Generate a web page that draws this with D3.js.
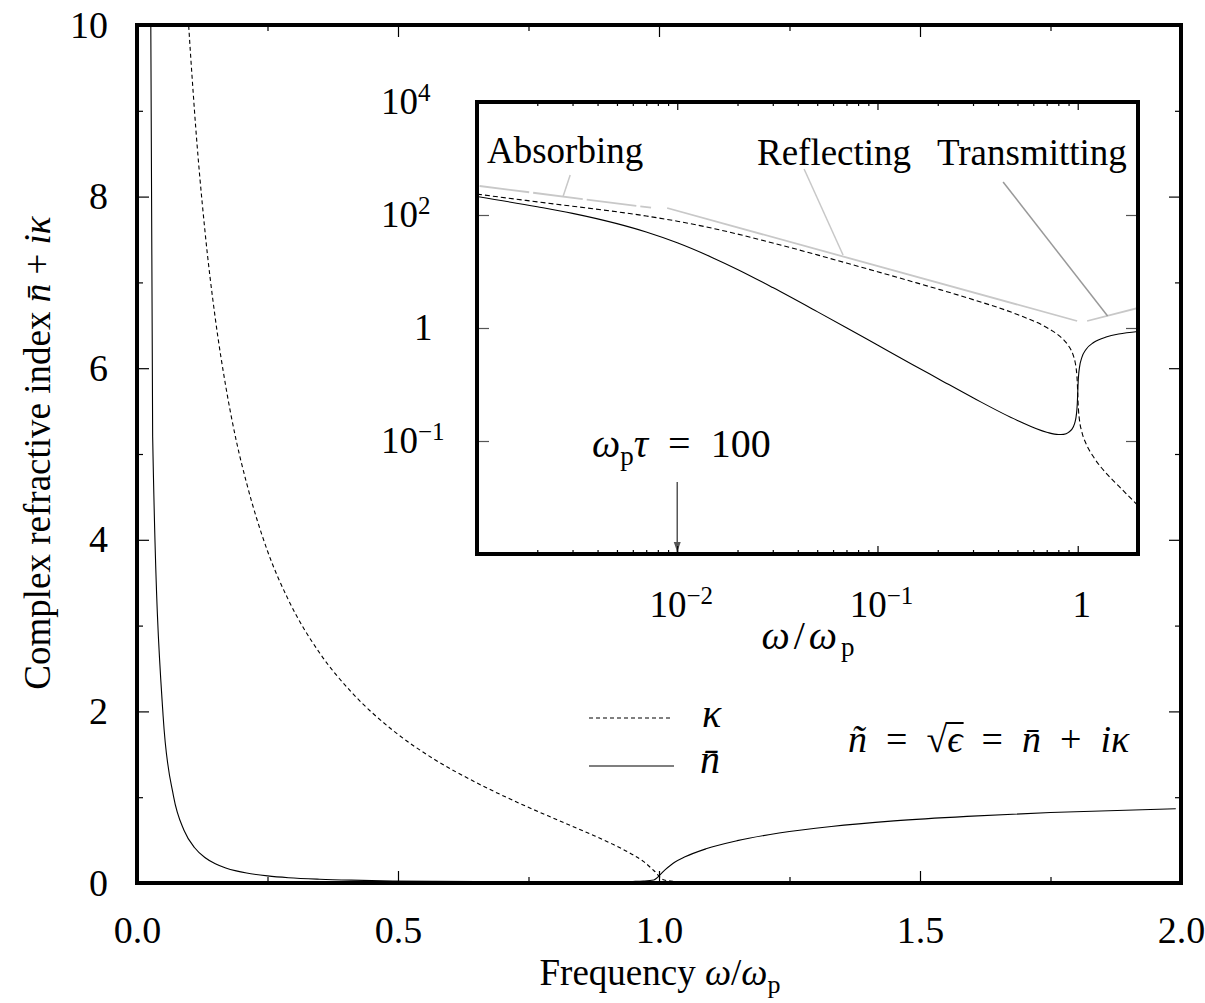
<!DOCTYPE html>
<html>
<head>
<meta charset="utf-8">
<script src="https://cdn.jsdelivr.net/npm/d3@7"></script>
<style>
body { margin: 0; background: #fff; }
svg text { font-family: "Liberation Serif", "Times New Roman", serif; fill: #000; }
</style>
</head>
<body>
<div id="chart"></div>
<script>
// values (omega in units of omega_p)
let mainOmega = [0.01, 0.03, 0.05, 0.07, 0.09, 0.11, 0.13, 0.15, 0.17, 0.19, 0.21, 0.25, 0.29, 0.35, 0.41, 0.49, 0.57, 0.65, 0.73, 0.81, 0.87, 0.91, 0.95, 0.97, 0.99, 1.01, 1.03, 1.05, 1.09, 1.15, 1.23, 1.33, 1.45, 1.59, 1.75, 1.99];
let mainNbar = [32.2, 5.20, 1.95, 1.01, 0.615, 0.414, 0.297, 0.224, 0.175, 0.141, 0.116, 0.083, 0.062, 0.044, 0.033, 0.024, 0.019, 0.016, 0.014, 0.013, 0.013, 0.015, 0.018, 0.022, 0.035, 0.145, 0.241, 0.305, 0.398, 0.494, 0.582, 0.659, 0.724, 0.777, 0.821, 0.865];
let mainKappa = [77.7, 32.0, 19.7, 14.1, 11.0, 9.01, 7.61, 6.58, 5.79, 5.16, 4.66, 3.87, 3.30, 2.68, 2.23, 1.78, 1.44, 1.17, 0.936, 0.724, 0.567, 0.456, 0.329, 0.252, 0.146, 0.034, 0.019, 0.014, 0.0097, 0.0067, 0.0046, 0.0032, 0.0023, 0.0016, 0.0011, 0.0007];

let insetOmega = [0.001, 0.002, 0.003, 0.005, 0.007, 0.01, 0.015, 0.02, 0.03, 0.05, 0.07, 0.1, 0.15, 0.2, 0.3, 0.5, 0.7, 0.8, 0.85, 0.9, 0.95, 0.97, 0.98, 0.99, 0.995, 1.0, 1.005, 1.01, 1.02, 1.05, 1.1, 1.2, 1.4, 1.6, 2.0];
let insetNbar = [212, 140, 107, 70.3, 50.0, 32.2, 17.6, 10.9, 5.20, 1.95, 1.01, 0.499, 0.224, 0.128, 0.0582, 0.0231, 0.0143, 0.0130, 0.0131, 0.0142, 0.0177, 0.0218, 0.0260, 0.0352, 0.0461, 0.0711, 0.110, 0.145, 0.199, 0.305, 0.417, 0.553, 0.700, 0.781, 0.866];
let insetKappa = [234, 171, 143, 114, 96.0, 77.7, 58.2, 46.0, 32.0, 19.7, 14.1, 9.91, 6.58, 4.90, 3.18, 1.73, 1.02, 0.750, 0.620, 0.484, 0.329, 0.252, 0.204, 0.146, 0.110, 0.0704, 0.0449, 0.0335, 0.0237, 0.0142, 0.0090, 0.0052, 0.0026, 0.0016, 0.00072];

// regime guide lines in the inset
let absorbOmega = [0.00103, 0.0074], absorbVal = [326, 135];
let reflectOmega = [0.0089, 0.993], reflectVal = [133, 1.33];
let transmitOmega = [1.114, 2.0], transmitVal = [1.33, 2.26];

let mainXTicks = [0, 0.5, 1, 1.5, 2], mainXMinor = [0.25, 0.75, 1.25, 1.75];
let mainYTicks = [0, 2, 4, 6, 8, 10], mainYMinor = [1, 3, 5, 7, 9];
let insetXTicks = [0.001, 0.01, 0.1, 1];
let insetXMinor = [0.002, 0.003, 0.004, 0.005, 0.006, 0.007, 0.008, 0.009, 0.02, 0.03, 0.04, 0.05, 0.06, 0.07, 0.08, 0.09, 0.2, 0.3, 0.4, 0.5, 0.6, 0.7, 0.8, 0.9, 2];
let insetXLabelTicks = [0.01, 0.1, 1], insetXLabels = [["10", "−2"], ["10", "−1"], ["1", ""]];
let insetYTicks = [1e4, 1e2, 1, 1e-2], insetYLabels = [["10", "4"], ["10", "2"], ["1", ""], ["10", "−1"]];

let width = 1205, height = 1003;
let font = "Liberation Serif";
let sp = "\u2002"; // wider math-like spacing around = and +

let svg = d3.select("#chart").append("svg")
  .attr("width", width)
  .attr("height", height);

let x = d3.scaleLinear().domain([0, 2]).range([137, 1181]);
let y = d3.scaleLinear().domain([0, 10]).range([883, 25]);
let xi = d3.scaleLog().domain([1e-3, 2]).range([477, 1138]);
let yi = d3.scaleLog().domain([1e-4, 1e4]).range([554, 102]);

let defs = svg.append("defs");
defs.append("clipPath").attr("id", "clipMain").append("rect")
  .attr("x", x(0)).attr("y", y(10)).attr("width", x(2) - x(0)).attr("height", y(0) - y(10));
defs.append("clipPath").attr("id", "clipInset").append("rect")
  .attr("x", xi(1e-3)).attr("y", yi(1e4)).attr("width", xi(2) - xi(1e-3)).attr("height", yi(1e-4) - yi(1e4));
defs.append("marker").attr("id", "arrow")
  .attr("viewBox", "0 0 10 10").attr("refX", 10).attr("refY", 5)
  .attr("markerWidth", 7).attr("markerHeight", 9).attr("markerUnits", "strokeWidth")
  .attr("orient", "auto")
  .append("path").attr("d", "M0,1.5L10,5L0,8.5Z").attr("fill", "#555");

// ---- main curves
let mainLine = vals => d3.line()
  .x((d, i) => x(mainOmega[i]))
  .y(d => y(d))
  .curve(d3.curveMonotoneX)(vals);

let gMain = svg.append("g").attr("clip-path", "url(#clipMain)");
gMain.append("path").attr("d", mainLine(mainKappa))
  .attr("fill", "none").attr("stroke", "#000").attr("stroke-width", 1.1).attr("stroke-dasharray", "4,3");
gMain.append("path").attr("d", mainLine(mainNbar))
  .attr("fill", "none").attr("stroke", "#000").attr("stroke-width", 1.1);

// ---- main ticks
function styleAxis(g, size) {
  g.select(".domain").remove();
  g.attr("font-family", font).attr("font-size", size);
  g.selectAll("line").attr("stroke-width", 1.2);
}

svg.append("g").attr("transform", `translate(0,${y(0)})`)
  .call(d3.axisBottom(x).tickValues(mainXTicks).tickSize(-12).tickPadding(33).tickFormat(d3.format(".1f")))
  .call(g => styleAxis(g, 38));
svg.append("g").attr("transform", `translate(0,${y(0)})`)
  .call(d3.axisBottom(x).tickValues(mainXMinor).tickSize(-6).tickFormat(""))
  .call(g => styleAxis(g, 38));
svg.append("g").attr("transform", `translate(0,${y(10)})`)
  .call(d3.axisTop(x).tickValues(mainXTicks).tickSize(-12).tickFormat(""))
  .call(g => styleAxis(g, 38));
svg.append("g").attr("transform", `translate(0,${y(10)})`)
  .call(d3.axisTop(x).tickValues(mainXMinor).tickSize(-6).tickFormat(""))
  .call(g => styleAxis(g, 38));
svg.append("g").attr("transform", `translate(${x(0)},0)`)
  .call(d3.axisLeft(y).tickValues(mainYTicks).tickSize(-12).tickPadding(29).tickFormat(d3.format("d")))
  .call(g => styleAxis(g, 38));
svg.append("g").attr("transform", `translate(${x(0)},0)`)
  .call(d3.axisLeft(y).tickValues(mainYMinor).tickSize(-6).tickFormat(""))
  .call(g => styleAxis(g, 38));
svg.append("g").attr("transform", `translate(${x(2)},0)`)
  .call(d3.axisRight(y).tickValues(mainYTicks).tickSize(-12).tickFormat(""))
  .call(g => styleAxis(g, 38));
svg.append("g").attr("transform", `translate(${x(2)},0)`)
  .call(d3.axisRight(y).tickValues(mainYMinor).tickSize(-6).tickFormat(""))
  .call(g => styleAxis(g, 38));

svg.append("rect")
  .attr("x", x(0)).attr("y", y(10)).attr("width", x(2) - x(0)).attr("height", y(0) - y(10))
  .attr("fill", "none").attr("stroke", "#000").attr("stroke-width", 4);

// helper for mixed upright / italic / sub / sup text
function richText(parent, parts, attrs) {
  let t = parent.append("text");
  for (let k in attrs) t.attr(k, attrs[k]);
  parts.forEach(p => {
    let s = t.append("tspan").text(p.t);
    if (p.it) s.attr("font-style", "italic");
    if (p.size) s.attr("font-size", p.size);
    if (p.dy) s.attr("dy", p.dy);
  });
  return t;
}

// axis titles
richText(svg, [
  {t: "Frequency "}, {t: "ω", it: 1}, {t: "/"}, {t: "ω", it: 1},
  {t: "p", size: 26, dy: 8}
], {x: 660, y: 985, "text-anchor": "middle", "font-size": 37});

richText(svg, [
  {t: "Complex refractive index "}, {t: "n̄", it: 1}, {t: " + "}, {t: "i", it: 1}, {t: "κ", it: 1}
], {transform: "translate(50,453) rotate(-90)", "text-anchor": "middle", "font-size": 37});

// legend
let legend = svg.append("g");
legend.append("line").attr("x1", 589).attr("x2", 673).attr("y1", 718).attr("y2", 718)
  .attr("stroke", "#000").attr("stroke-width", 1.1).attr("stroke-dasharray", "4,3");
legend.append("line").attr("x1", 589).attr("x2", 674).attr("y1", 766).attr("y2", 766)
  .attr("stroke", "#000").attr("stroke-width", 1.1);
richText(legend, [{t: "κ", it: 1}], {x: 702, y: 727, "font-size": 40});
richText(legend, [{t: "n̄", it: 1}], {x: 700, y: 773, "font-size": 40});

// formula
let formula = richText(svg, [
  {t: "ñ", it: 1}, {t: sp + "=" + sp}, {t: "√"}, {t: "ϵ", it: 1}, {t: sp + "=" + sp},
  {t: "n̄", it: 1}, {t: sp + "+" + sp}, {t: "i", it: 1}, {t: "κ", it: 1}
], {x: 848, y: 752, "font-size": 38});
{
  let node = formula.node();
  let full = node.textContent;
  let iRoot = full.indexOf("√");
  let rootBox = node.getExtentOfChar(iRoot);
  let epsBox = node.getExtentOfChar(iRoot + 1);
  svg.append("line")
    .attr("x1", rootBox.x + rootBox.width - 1).attr("x2", epsBox.x + epsBox.width + 1)
    .attr("y1", rootBox.y + 5).attr("y2", rootBox.y + 5)
    .attr("stroke", "#000").attr("stroke-width", 2);
}

// ---- inset
svg.append("rect")
  .attr("x", xi(1e-3)).attr("y", yi(1e4)).attr("width", xi(2) - xi(1e-3)).attr("height", yi(1e-4) - yi(1e4))
  .attr("fill", "#fff");

let gInset = svg.append("g").attr("clip-path", "url(#clipInset)");

let lineLog = d3.line().x(d => xi(d[0])).y(d => yi(d[1]));
let zip = (a, b) => a.map((v, i) => [v, b[i]]);

gInset.append("path").attr("d", lineLog(zip(absorbOmega, absorbVal)))
  .attr("fill", "none").attr("stroke", "#c8c8c8").attr("stroke-width", 1.8).attr("stroke-dasharray", "50,4");
gInset.append("path").attr("d", lineLog(zip(reflectOmega, reflectVal)))
  .attr("fill", "none").attr("stroke", "#c8c8c8").attr("stroke-width", 1.8);
gInset.append("path").attr("d", lineLog(zip(transmitOmega, transmitVal)))
  .attr("fill", "none").attr("stroke", "#c8c8c8").attr("stroke-width", 1.8);

let insetLine = vals => d3.line()
  .x((d, i) => xi(insetOmega[i]))
  .y(d => yi(d))
  .curve(d3.curveMonotoneX)(vals);

gInset.append("path").attr("d", insetLine(insetKappa))
  .attr("fill", "none").attr("stroke", "#000").attr("stroke-width", 1.1).attr("stroke-dasharray", "5,3");
gInset.append("path").attr("d", insetLine(insetNbar))
  .attr("fill", "none").attr("stroke", "#000").attr("stroke-width", 1.1);

// leader lines to the regime labels
let leaders = [
  {from: [0.00292, 511], to: [0.00269, 212], color: "#c8c8c8"},
  {from: [0.043, 652], to: [0.0673, 19.6], color: "#c8c8c8"},
  {from: [0.424, 384], to: [1.41, 1.63], color: "#999"}
];
leaders.forEach(l => {
  svg.append("line")
    .attr("x1", xi(l.from[0])).attr("y1", yi(l.from[1]))
    .attr("x2", xi(l.to[0])).attr("y2", yi(l.to[1]))
    .attr("stroke", l.color).attr("stroke-width", 1.5);
});

svg.append("text").text("Absorbing").attr("x", 487).attr("y", 163).attr("font-size", 37);
svg.append("text").text("Reflecting").attr("x", 757).attr("y", 165).attr("font-size", 37);
svg.append("text").text("Transmitting").attr("x", 937).attr("y", 165).attr("font-size", 37);

// omega_p tau = 100 arrow
svg.append("line")
  .attr("x1", xi(0.01)).attr("y1", yi(0.00188))
  .attr("x2", xi(0.01)).attr("y2", yi(1e-4) - 2)
  .attr("stroke", "#555").attr("stroke-width", 1.5)
  .attr("marker-end", "url(#arrow)");
richText(svg, [
  {t: "ω", it: 1}, {t: "p", size: 27, dy: 8}, {t: "τ", it: 1, dy: -8}, {t: sp + "=" + sp + "100"}
], {x: 592, y: 457, "font-size": 40});

// inset ticks
svg.append("g").attr("transform", `translate(0,${yi(1e-4)})`)
  .call(d3.axisBottom(xi).tickValues(insetXTicks).tickSize(-8).tickFormat(""))
  .call(g => styleAxis(g, 32));
svg.append("g").attr("transform", `translate(0,${yi(1e-4)})`)
  .call(d3.axisBottom(xi).tickValues(insetXMinor).tickSize(-4).tickFormat(""))
  .call(g => styleAxis(g, 32));
svg.append("g").attr("transform", `translate(0,${yi(1e4)})`)
  .call(d3.axisTop(xi).tickValues(insetXTicks).tickSize(-8).tickFormat(""))
  .call(g => styleAxis(g, 32));
svg.append("g").attr("transform", `translate(0,${yi(1e4)})`)
  .call(d3.axisTop(xi).tickValues(insetXMinor).tickSize(-4).tickFormat(""))
  .call(g => styleAxis(g, 32));
svg.append("g").attr("transform", `translate(${xi(1e-3)},0)`).attr("color", "#555")
  .call(d3.axisLeft(yi).tickValues(insetYTicks).tickSize(-12).tickFormat(""))
  .call(g => styleAxis(g, 32));
svg.append("g").attr("transform", `translate(${xi(2)},0)`).attr("color", "#555")
  .call(d3.axisRight(yi).tickValues(insetYTicks).tickSize(-12).tickFormat(""))
  .call(g => styleAxis(g, 32));

svg.append("rect")
  .attr("x", xi(1e-3)).attr("y", yi(1e4)).attr("width", xi(2) - xi(1e-3)).attr("height", yi(1e-4) - yi(1e4))
  .attr("fill", "none").attr("stroke", "#000").attr("stroke-width", 4);

// inset tick labels
insetXLabelTicks.forEach((v, i) => {
  let lab = insetXLabels[i];
  let parts = [{t: lab[0]}];
  if (lab[1]) parts.push({t: lab[1], size: 25, dy: -13});
  richText(svg, parts, {x: xi(v) + 4, y: 617, "text-anchor": "middle", "font-size": 37});
});
insetYTicks.forEach((v, i) => {
  let lab = insetYLabels[i];
  let parts = [{t: lab[0]}];
  if (lab[1]) parts.push({t: lab[1], size: 25, dy: -13});
  richText(svg, parts, {x: lab[1] ? 381 : 414, y: yi(v) + 12, "font-size": 37});
});

richText(svg, [
  {t: "ω", it: 1}, {t: "/"}, {t: "ω", it: 1}, {t: "p", size: 27, dy: 7}
], {x: 810, y: 649, "text-anchor": "middle", "font-size": 40, "letter-spacing": 4});
</script>
</body>
</html>
